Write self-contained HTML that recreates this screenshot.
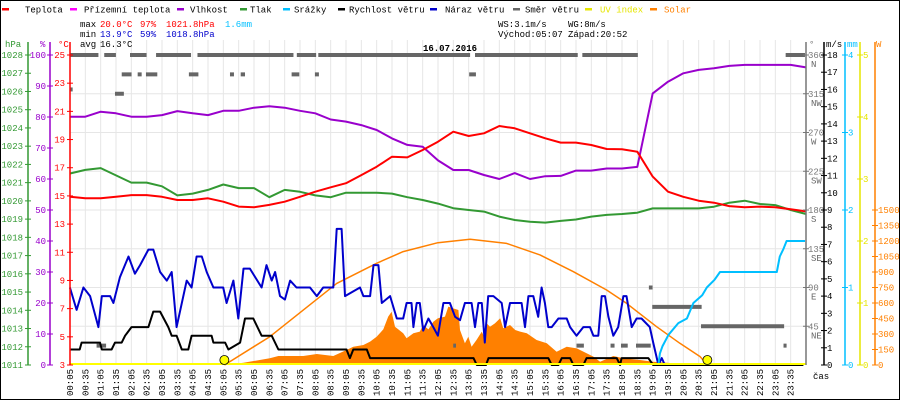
<!DOCTYPE html>
<html><head><meta charset="utf-8"><style>
html,body{margin:0;padding:0;background:#fff}
svg{display:block}
text{font-family:"Liberation Mono",monospace;font-size:9px}
</style></head><body>
<svg id="c" width="900" height="400" viewBox="0 0 900 400" xmlns="http://www.w3.org/2000/svg"></svg>
<script>
// ---- data ----
const tempHalfHour=[14.94,14.83,14.83,14.94,15.06,15.06,14.94,14.71,14.71,14.83,14.59,14.24,14.19,14.36,14.59,14.94,15.3,15.61,15.9,16.48,17.07,17.78,17.73,18.26,18.85,19.56,19.25,19.44,19.96,19.8,19.44,19.09,18.78,18.78,18.61,18.33,18.31,18.14,16.37,15.3,14.94,14.66,14.52,14.28,14.19,14.24,14.19,14.05,13.9];
const humHalfHour=[80.1,80.1,81.7,81.2,80.1,80.1,80.6,81.9,81.2,80.6,82.0,82.0,83.0,83.5,83.0,82.0,81.2,79.2,78.5,77.4,75.8,73.1,71.0,70.4,66.0,62.9,62.9,61.3,60.0,61.9,60.0,60.9,61.0,62.7,62.7,63.4,63.4,63.9,87.6,91.4,94.1,95.2,95.7,96.5,96.8,96.8,96.8,96.8,96.0];
const pressHalfHour=[1021.5,1021.7,1021.8,1021.4,1021.0,1021.0,1020.8,1020.3,1020.4,1020.6,1020.9,1020.7,1020.7,1020.2,1020.6,1020.5,1020.3,1020.2,1020.45,1020.45,1020.45,1020.4,1020.2,1020.05,1019.85,1019.6,1019.5,1019.41,1019.14,1018.95,1018.86,1018.81,1018.9,1018.98,1019.14,1019.23,1019.28,1019.35,1019.59,1019.59,1019.59,1019.59,1019.68,1019.9,1020.01,1019.83,1019.77,1019.5,1019.28];
const gustHours=[0.08,0.30,0.52,0.74,1.01,1.12,1.39,1.50,1.71,1.99,2.20,2.37,2.64,2.80,3.02,3.24,3.40,3.56,3.89,4.05,4.21,4.38,4.54,4.76,5.08,5.19,5.41,5.57,5.74,5.95,6.33,6.49,6.66,6.77,6.93,7.09,7.26,7.47,7.91,8.13,8.34,8.67,8.78,8.94,9.05,9.54,9.65,9.87,9.98,10.14,10.25,10.52,10.74,10.95,11.06,11.22,11.28,11.39,11.49,11.60,11.77,11.93,12.08,12.26,12.47,12.64,12.80,12.96,13.18,13.29,13.40,13.51,13.61,13.72,13.89,14.16,14.27,14.43,14.81,14.92,15.03,15.19,15.35,15.46,15.57,15.68,15.79,16.01,16.28,16.39,16.60,16.82,17.04,17.15,17.31,17.42,17.53,17.64,17.80,17.96,18.13,18.23,18.40,18.56,18.72,18.99,19.10,19.27,19.38,19.48];
const gustValues=[4.5,3.2,4.5,4.0,2.2,4.0,4.0,3.6,5.1,6.3,5.3,5.8,6.7,6.7,5.4,4.9,5.4,2.2,4.9,4.5,6.3,6.3,5.4,4.5,4.5,3.6,4.9,2.7,5.6,5.6,4.5,5.8,4.9,5.4,4.0,3.8,4.9,4.5,4.5,4.0,4.5,4.5,7.9,7.9,4.0,4.5,4.0,4.0,5.8,5.8,3.6,4.0,2.7,2.7,3.6,3.6,2.2,3.6,3.6,2.0,2.7,2.2,1.7,3.6,3.6,2.8,2.6,3.6,3.6,2.2,3.6,3.6,1.3,4.0,4.0,3.6,2.2,3.6,3.6,2.2,4.0,4.0,2.8,4.5,3.6,2.2,2.2,2.7,2.7,2.2,1.7,2.2,2.2,1.7,1.7,4.0,4.0,2.8,1.7,2.2,4.0,4.0,2.2,2.7,2.7,2.2,1.3,0,0.4,0];
const windHours=[0.08,0.40,0.46,1.06,1.12,1.44,1.55,1.77,1.88,2.09,2.64,2.80,3.02,3.29,3.40,3.56,3.73,3.94,4.05,4.70,4.76,5.14,5.25,5.63,5.79,6.06,6.33,6.66,6.88,9.10,9.21,9.32,9.76,9.87,13.24,13.35,13.65,13.73,15.68,15.79,16.01,16.12,16.39,16.50,16.82,16.93,17.91,18.02,18.07,18.94,19.10,24.0];
const windValues=[0.9,0.9,1.3,1.3,0.9,0.9,1.3,1.3,1.7,2.2,2.2,3.1,3.1,2.2,1.7,1.7,0.9,0.9,1.7,1.7,1.3,1.3,0.9,1.3,2.7,2.7,1.7,1.7,0.9,0.9,0.4,0.9,0.9,0.4,0.4,0,0,0.4,0.4,0,0,0.4,0.4,0,0,0.4,0.4,0,0.4,0.4,0,0];
const solarHours=[5.14,5.74,6.60,6.88,7.69,8.13,8.67,9.10,9.32,9.65,9.87,10.08,10.30,10.46,10.57,10.68,10.95,11.06,11.28,11.49,11.60,11.77,11.93,12.08,12.31,12.42,12.58,12.75,12.80,12.96,13.07,13.18,13.34,13.51,13.56,13.67,13.78,13.94,14.11,14.21,14.43,14.60,14.76,14.98,15.30,15.63,15.95,16.28,16.61,16.93,17.15,17.37,17.80,18.13,18.67,19.10,19.76,20.41,20.85];
const solarValues=[0,22,65,87,87,106,87,145,177,194,226,274,345,468,516,371,307,258,307,323,387,345,419,452,468,565,548,532,339,210,274,177,242,323,290,403,371,403,452,355,387,339,323,307,242,210,129,177,161,113,81,32,87,65,48,32,16,10,0];
const solarMaxHours=[5.12,6.60,8.78,10.08,10.95,12.08,13.13,14.32,15.41,16.50,17.58,18.23,19.21,19.97,20.63,20.87];
const solarMaxValues=[0,274,790,984,1097,1184,1216,1177,1065,903,726,597,371,210,81,0];
const rainHours=[19.27,19.32,19.40,19.60,19.92,20.20,20.41,20.70,20.85,21.10,21.28,23.13,23.23,23.35,23.45,24.05];
const rainValues=[0,0.15,0.24,0.39,0.54,0.6,0.8,0.9,1.0,1.1,1.2,1.2,1.4,1.5,1.6,1.6];
const dirStart=[0.08,1.20,2.04,2.89,4.24,7.48,8.18,13.29,16.79,23.42,0.08,1.55,0.95,1.77,2.29,2.56,3.96,5.30,5.65,7.31,8.07,13.10,12.58,16.60,17.71,18.05,18.54,18.96,19.07,20.66,23.35];
const dirEnd=[1.01,1.58,2.58,4.03,7.37,8.11,13.13,16.64,18.60,24.05,0.17,1.84,1.26,2.09,2.42,2.93,4.27,5.43,5.79,7.56,8.20,13.32,12.67,16.84,17.84,18.27,19.02,19.08,20.68,23.37,23.45];
const dirDeg=[360,360,360,360,360,360,360,360,360,360,320,315,22.5,337.5,337.5,337.5,337.5,337.5,337.5,337.5,337.5,337.5,22.5,22.5,22.5,22.5,22.5,90,67.5,45,22.5];
const sunTimes=[5.117,20.867];
const hourLabels=[];for(let i=0;i<48;i++){const m=5+i*30;hourLabels.push(String(Math.floor(m/60)).padStart(2,'0')+':'+String(m%60).padStart(2,'0'));}
const hpaTicks=[1011,1012,1013,1014,1015,1016,1017,1018,1019,1020,1021,1022,1023,1024,1025,1026,1027,1028];
const pctTicks=[0,10,20,30,40,50,60,70,80,90,100];
const tempTicks=[3,5,7,9,11,13,15,17,19,21,23,25];
const dirTicks=[45,90,135,180,225,270,315,360];
const dirNames=['NE','E','SE','S','SW','W','NW','N'];
const msTicks=[0,1,2,3,4,5,6,7,8,9,10,11,12,13,14,15,16,17,18];
const mmTicks=[0,1,2,3,4];
const uvTicks=[0,1,2,3,4,5];
const wTicks=[0,150,300,450,600,750,900,1050,1200,1350,1500];

// ---- scales ----
const X0=70,X1=806,Y0=365,Y1=55,H=Y0-Y1;
const xH=h=>X0+(h-1/12)*(X1-X0)/24;
const xK=k=>X0+k*(X1-X0)/48;
const yT=v=>Y0-(v-3)/22*H, yP=v=>Y0-v/100*H, yHpa=v=>Y0-(v-1011)/17*H;
const yMs=v=>Y0-v/18*H, yMm=v=>Y0-v/4*H, yUv=v=>Y0-v/5*H, yW=v=>Y0-v/3000*H, yDeg=v=>Y0-v/360*H;
const svg=document.getElementById('c');const NS='http://www.w3.org/2000/svg';
function el(tag,attrs,parent,txt){const e=document.createElementNS(NS,tag);for(const k in attrs)e.setAttribute(k,attrs[k]);if(txt!==undefined)e.textContent=txt;(parent||svg).appendChild(e);return e;}
function grp(name){const g=el('g',{});return g;}

el('rect',{x:0.5,y:0.5,width:899,height:399,fill:'#fff',stroke:'#000'});
// grid
const grid=grp('grid');
for(let k=1;k<48;k++)el('line',{x1:xK(k),x2:xK(k),y1:Y1-15,y2:Y0,stroke:'#e6e6e6'},grid);
for(let j=1;j<8;j++)el('line',{x1:X0,x2:X1,y1:Y0-j*H/8,y2:Y0-j*H/8,stroke:'#e6e6e6'},grid);

// solar fill
const sg=grp('solar-area');
let d='M'+xH(solarHours[0])+','+Y0;solarHours.forEach((h,i)=>d+=' L'+xH(h).toFixed(1)+','+yW(solarValues[i]).toFixed(1));d+=' L'+xH(solarHours[solarHours.length-1])+','+Y0+'Z';
el('path',{d:d,fill:'#ff8000'},sg);
function line(name,xs,ys,color,w){const g=grp(name);el('polyline',{points:xs.map((x,i)=>x.toFixed(1)+','+ys[i].toFixed(1)).join(' '),fill:'none',stroke:color,'stroke-width':w,'stroke-linejoin':'round'},g);return g;}
line('solar-max-line',solarMaxHours.map(xH),solarMaxValues.map(yW),'#ff8000',1.5);
// direction bars
const dg=grp('wind-direction-bars');
dirStart.forEach((s,i)=>el('rect',{x:xH(s),y:yDeg(dirDeg[i])-2,width:Math.max(2,xH(dirEnd[i])-xH(s)),height:4,fill:'#666'},dg));
const kk=tempHalfHour.map((_,i)=>xK(i));
line('pressure-line',kk,pressHalfHour.map(yHpa),'#339933',2);
line('humidity-line',kk,humHalfHour.map(yP),'#9900cc',2);
line('temperature-line',kk,tempHalfHour.map(yT),'#ff0000',2);
line('gust-line',gustHours.map(xH),gustValues.map(yMs),'#0000cc',2);
line('wind-speed-line',windHours.map(xH),windValues.map(yMs),'#000',2);
line('rain-line',rainHours.map(xH),rainValues.map(yMm),'#00bfff',2);
const uv=grp('uv-line');el('line',{x1:X0,x2:X1,y1:Y0-1,y2:Y0-1,stroke:'#ffff00','stroke-width':2},uv);
sunTimes.forEach(t=>{const c=el('circle',{cx:xH(t),cy:360,r:4.5,fill:'#ffff00',stroke:'#000','stroke-width':0.8},svg);});

// axes
function axis(name,x,ticks,yf,color,labelX,anchor,fmt,top){const g=grp(name);el('line',{x1:x,x2:x,y1:top,y2:Y0,stroke:color,'stroke-width':1.5},g);
 ticks.forEach((t,i)=>{const y=yf(t);el('line',{x1:x-3,x2:x+3,y1:y,y2:y,stroke:color},g);el('text',{x:labelX,y:y+3,fill:color,'text-anchor':anchor},g,fmt?fmt(t,i):String(t));});return g;}
axis('hpa-axis',28,hpaTicks,yHpa,'#339933',23,'end',null,42);
axis('humidity-axis',50,pctTicks,yP,'#9900cc',46,'end',null,42);
axis('temperature-axis',70,tempTicks,yT,'#ff0000',65,'end',null,42);
const da=axis('direction-axis',806,dirTicks,yDeg,'#777',808,'start',null,42);
dirTicks.forEach((t,i)=>el('text',{x:811,y:yDeg(t)+12,fill:'#666'},da,dirNames[i]));
axis('wind-axis',824,msTicks,yMs,'#000',827,'start',null,42);
axis('rain-axis',845,mmTicks,yMm,'#00bfff',848,'start',null,42);
axis('uv-axis',860,uvTicks,yUv,'#e6e600',863,'start',null,42);
axis('solar-axis',875,wTicks,yW,'#ff8000',878,'start',null,42);
[['hpa-unit',5,'hPa','#339933'],['pct-unit',40,'%','#9900cc'],['c-unit',58,'°C','#ff0000'],['deg-unit',809,'°','#777'],['ms-unit',826,'m/s','#000'],['mm-unit',847,'mm','#00bfff'],['uv-unit',862,'5','#e6e600'],['w-unit',876,'W','#ff8000']].forEach(a=>{if(a[0]==='uv-unit')return;const t=el('text',{x:a[1],y:47,fill:a[3]},svg,a[2]);});

// x labels
const xl=grp('x-axis-labels');
hourLabels.forEach((s,k)=>el('text',{x:0,y:0,transform:'translate('+(xK(k)+3)+',396) rotate(-90)',fill:'#000','font-size':'8.5px'},xl,s));
el('text',{x:813,y:379,fill:'#000'},svg,'čas');

// legend
const legend=[['Teplota','#ff0000',2,25],['Přízemní teplota','#ff00ff',70,84],['Vlhkost','#9900cc',177,190],['Tlak','#339933',240,250],['Srážky','#00bfff',283,294],['Rychlost větru','#000',338,349],['Náraz větru','#0000cc',430,445],['Směr větru','#666',513,525],['UV index','#e6e600',585,600],['Solar','#ff8000',650,664]];
const lg=grp('legend');
legend.forEach(l=>{const g=el('g',{},lg);
 el('rect',{x:l[2],y:8,width:7,height:2.5,fill:l[1]},g);el('text',{x:l[3],y:12.5,fill:l[1]==='#e6e600'?'#e6e600':(l[1]==='#ff8000'?'#ff8000':'#000')},g,l[0]);});
const st=grp('stats');
[['max',80,27,'#000'],['20.0°C',100,27,'#ff0000'],['97%',140,27,'#ff0000'],['1021.8hPa',166,27,'#ff0000'],['1.6mm',225,27,'#00bfff'],
 ['min',80,37,'#000'],['13.9°C',100,37,'#0000cc'],['59%',140,37,'#0000cc'],['1018.8hPa',166,37,'#0000cc'],
 ['avg',80,47,'#000'],['16.3°C',100,47,'#000'],
 ['WS:3.1m/s',498,27,'#000'],['WG:8m/s',568,27,'#000'],['Východ:05:07',498,37,'#000'],['Západ:20:52',568,37,'#000']].forEach(s=>el('text',{x:s[1],y:s[2],fill:s[3]},st,s[0]));
const ti=el('text',{x:450,y:51,'text-anchor':'middle','font-size':'13px','font-weight':'bold',fill:'#000'},svg,'16.07.2016');

</script>
</body></html>
